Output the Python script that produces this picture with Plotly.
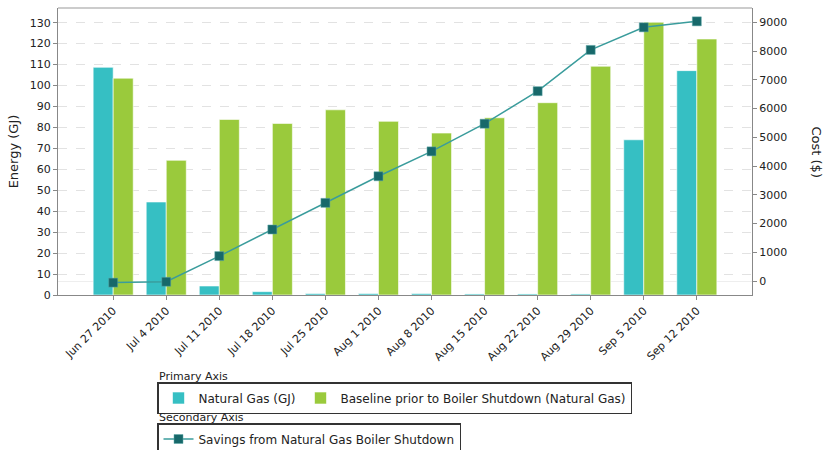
import plotly.graph_objects as go

categories = ["Jun 27 2010", "Jul 4 2010", "Jul 11 2010", "Jul 18 2010", "Jul 25 2010",
              "Aug 1 2010", "Aug 8 2010", "Aug 15 2010", "Aug 22 2010", "Aug 29 2010",
              "Sep 5 2010", "Sep 12 2010"]
natural_gas = [108.7, 44.4, 4.3, 1.6, 0.7, 0.7, 0.7, 0.5, 0.5, 0.5, 74.1, 107.1]
baseline = [103.5, 64.3, 83.8, 81.9, 88.4, 82.9, 77.3, 84.6, 91.8, 109.2, 130.2, 122.2]
savings = [-55, -25, 868, 1794, 2720, 3645, 4512, 5474, 6606, 8042, 8827, 9036]

FONT = "DejaVu Sans"
W, H = 824, 450
L, R, T, B = 58, 752, 8, 295

fig = go.Figure()
fig.add_trace(go.Bar(x=categories, y=natural_gas, name="Natural Gas (GJ)",
                     marker=dict(color="#36BFC3", line=dict(color="rgba(255,255,255,0.6)", width=1)),
                     legend="legend"))
fig.add_trace(go.Bar(x=categories, y=baseline, name="Baseline prior to Boiler Shutdown (Natural Gas)",
                     marker=dict(color="#9ACA3C", line=dict(color="rgba(255,255,255,0.6)", width=1)),
                     legend="legend"))
fig.add_trace(go.Scatter(x=categories, y=savings, name="Savings from Natural Gas Boiler Shutdown",
                         yaxis="y2", mode="lines+markers",
                         line=dict(color="#3A9C9C", width=1.5),
                         marker=dict(symbol="square", size=9, color="#17686A",
                                     line=dict(color="#5fa8a8", width=0.5)),
                         legend="legend2"))

fig.update_layout(
    width=W, height=H,
    margin=dict(l=L, r=W - R, t=T, b=H - B, autoexpand=False),
    paper_bgcolor="white", plot_bgcolor="white",
    font=dict(family=FONT, size=11, color="#333"),
    barmode="group", bargap=0.245, bargroupgap=0,
    xaxis=dict(type="category", range=[-1.04, 12.04], tickangle=-45, automargin=False,
               showline=True, linecolor="#888", linewidth=1,
               ticks="outside", ticklen=4, tickcolor="#888",
               showgrid=False, tickfont=dict(size=11, color="#222")),
    yaxis=dict(range=[0, 137], dtick=10, showline=True, linecolor="#888", automargin=False,
               ticks="outside", ticklen=4, tickcolor="#888",
               gridcolor="#e2e2e2", griddash="dash", zeroline=False,
               title=dict(text="Energy (GJ)", font=dict(size=13, color="#222"), standoff=8),
               tickfont=dict(size=11, color="#222")),
    yaxis2=dict(range=[-486, 9500], dtick=1000, overlaying="y", side="right", automargin=False,
                showline=True, linecolor="#888", ticks="outside", ticklen=4, tickcolor="#888",
                showgrid=False, zeroline=True, zerolinecolor="#eeeeee", zerolinewidth=1,
                tickfont=dict(size=11, color="#222")),
    legend=dict(orientation="h", xref="container", yref="container",
                x=157 / W, y=1 - 382 / H, xanchor="left", yanchor="top",
                bordercolor="#333", borderwidth=1.5, font=dict(size=12, color="#222"),
                traceorder="normal"),
    legend2=dict(orientation="h", xref="container", yref="container",
                 x=157 / W, y=1 - 423 / H, xanchor="left", yanchor="top",
                 bordercolor="#333", borderwidth=1.5, font=dict(size=12, color="#222")),
    showlegend=True,
)
fig.add_shape(type="line", xref="paper", yref="paper", x0=0, x1=1, y0=1, y1=1,
              line=dict(color="#cccccc", width=2))
fig.add_annotation(text="Primary Axis", xref="paper", yref="paper", x=(157 - L) / (R - L),
                   y=(B - 376) / (B - T), xanchor="left", yanchor="middle", showarrow=False,
                   font=dict(size=11, color="#222"))
fig.add_annotation(text="Secondary Axis", xref="paper", yref="paper", x=(157 - L) / (R - L),
                   y=(B - 417) / (B - T), xanchor="left", yanchor="middle", showarrow=False,
                   font=dict(size=11, color="#222"))
fig.add_annotation(text="Cost ($)", xref="paper", yref="paper", x=(816 - L) / (R - L), y=0.5,
                   textangle=90, xanchor="center", yanchor="middle", showarrow=False,
                   font=dict(size=13, color="#222"))

fig.write_html("out.html", config={"displayModeBar": False},
               post_script="document.body.style.margin='0';document.body.style.overflow='hidden';")
